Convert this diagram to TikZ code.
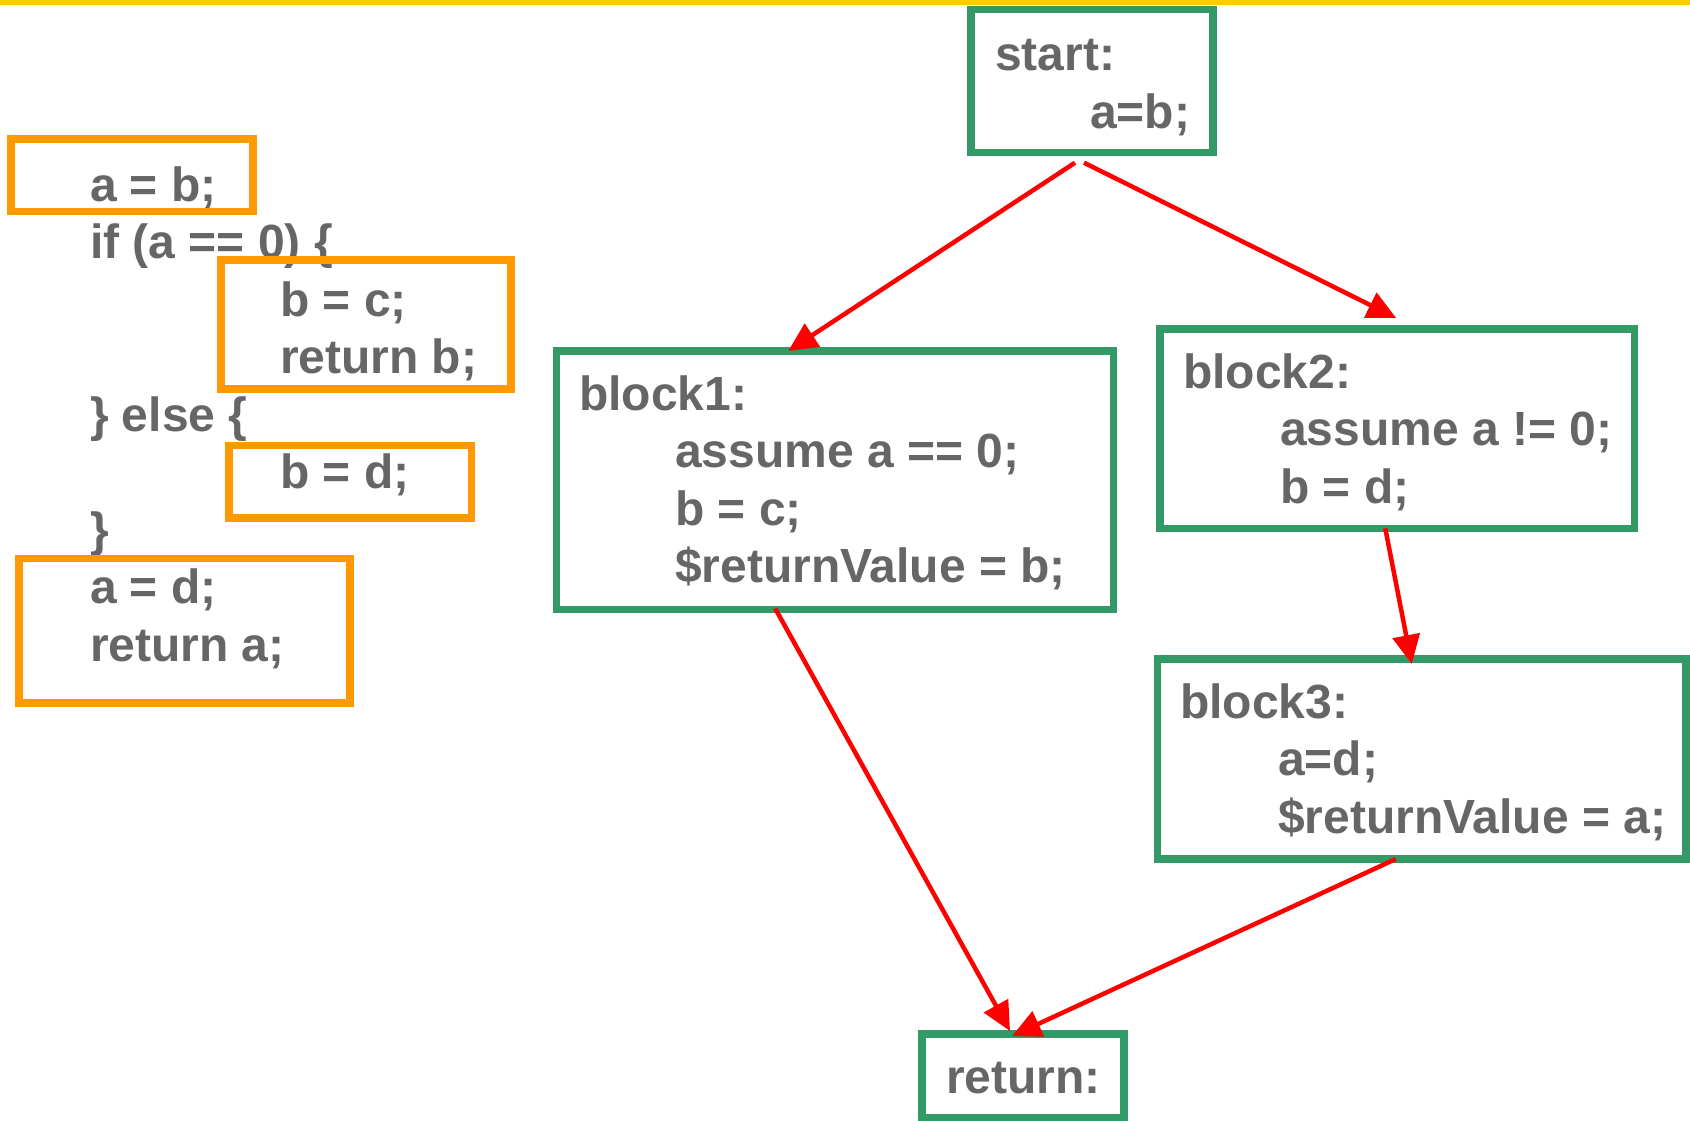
\documentclass[tikz,border=0pt]{standalone}
\usepackage{fontspec}
\setmainfont{Liberation Sans}
\usetikzlibrary{calc,fit,arrows.meta}
\definecolor{cfggreen}{HTML}{339966}
\definecolor{hlorange}{HTML}{FF9900}
\definecolor{codegray}{HTML}{666666}
\definecolor{rulegold}{HTML}{FFCC00}
\definecolor{edgered}{HTML}{FF0000}

\begin{document}
\begin{tikzpicture}[x=0.5pt,y=-0.5pt,
  code/.style={anchor=base west,inner sep=0pt,outer sep=0pt,align=left,text=codegray,
    font=\fontsize{24}{28.75}\selectfont\bfseries},
  block/.style={draw=cfggreen,line width=3.75pt,inner sep=0pt,outer sep=0pt},
  hilite/.style={draw=hlorange,line width=3.75pt},
  flow/.style={draw=edgered,line width=2.25pt,-{Triangle[length=14.5pt,width=13.5pt]}}]
\useasboundingbox (0,0) rectangle (1690,1120);
\fill[rulegold] (0,0) rectangle (1690,5);

% the source function, its pieces marked in orange
% (a multi-line node sits on the baseline of its last line)
\node[code] (src) at (90,661) {a = b;\\
  if (a == 0) \{\\
  \hspace*{95pt}b = c;\\
  \hspace*{95pt}return b;\\
  \} else \{\\
  \hspace*{95pt}b = d;\\
  \}\\
  a = d;\\
  return a;};
\draw[hilite] (11,139) rectangle (253,211.7);
\draw[hilite] (221,260) rectangle (511,389);
\draw[hilite] (229,445.5) rectangle (471.5,518);
\draw[hilite] (19,558.3) rectangle (350,703);

% control flow graph
\node[block,fit={(971,9.5) (1213,152.7)}] (start) {};
\node[block,fit={(556.7,351) (1113.7,609.5)}] (block1) {};
\node[block,fit={(1160,329) (1634.5,528.3)}] (block2) {};
\node[block,fit={(1157.5,659) (1686,859)}] (block3) {};
\node[block,fit={(922,1034) (1124,1117.5)}] (ret) {};

\node[code] (start text) at (995,128) {start:\\\hspace*{47.5pt}a=b;};
\node[code] (block1 text) at (579,582.5) {block1:\\
  \hspace*{48pt}assume a == 0;\\
  \hspace*{48pt}b = c;\\
  \hspace*{48pt}\$returnValue = b;};
\node[code] (block2 text) at (1183,503.3) {block2:\\
  \hspace*{48.5pt}assume a != 0;\\
  \hspace*{48.5pt}b = d;};
\node[code] (block3 text) at (1180,833.3) {block3:\\
  \hspace*{49pt}a=d;\\
  \hspace*{49pt}\$returnValue = a;};
\node[code] (ret text) at (946,1093) {return:};

\draw[flow] ($(start.south)+(-17,10)$) -- ($(block1.north)+(-47,0)$);
\draw[flow] ($(start.south)+(-8,10)$) -- ($(block2.north)+(-1,-11)$);
\draw[flow] ($(block1.south)+(-60,-1)$) -- ($(ret.north)+(-13,-3)$);
\draw[flow] ($(block2.south)+(-12,0)$) -- ($(block3.north)+(-10,5)$);
\draw[flow] ($(block3.south)+(-26,0)$) -- ($(ret.north)+(-11,2)$);
\end{tikzpicture}
\end{document}
